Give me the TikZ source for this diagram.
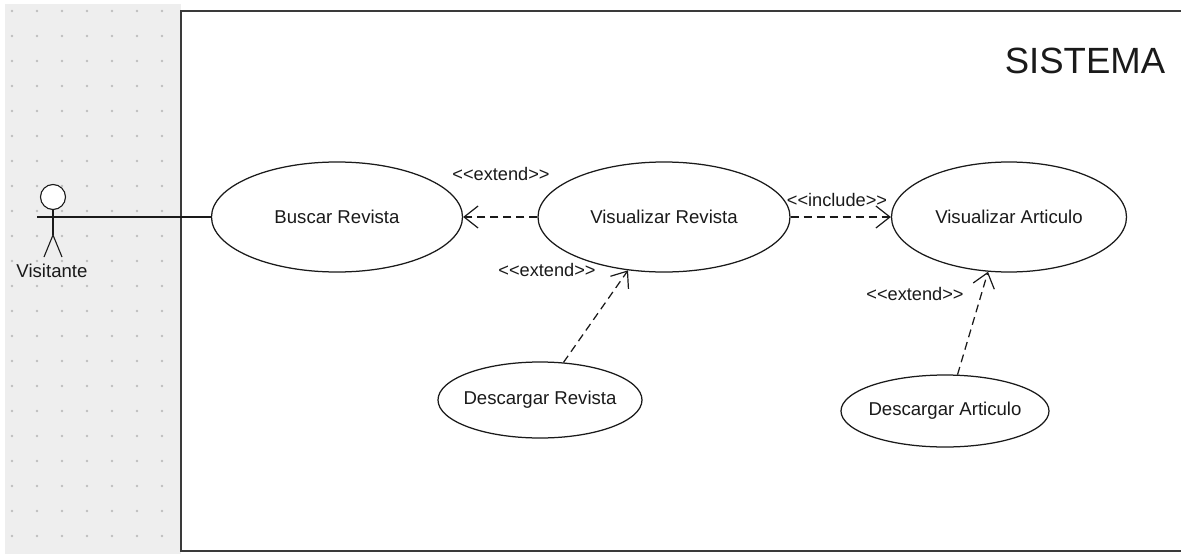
\documentclass[tikz,border=0pt]{standalone}
\usepackage{fontspec}
\setmainfont{Liberation Sans}[Ligatures=TeXOff]
\usetikzlibrary{shapes.geometric,arrows.meta}
\definecolor{gridbg}{HTML}{EEEEEE}
\definecolor{griddot}{HTML}{BEBEBE}
\definecolor{ink}{HTML}{1A1A1A}
\definecolor{frame}{HTML}{3A3A3A}
\begin{document}
\begin{tikzpicture}[x=1pt,y=-1pt,
  usecase/.style={ellipse,draw=ink,line width=1.25pt,fill=white,inner sep=0pt,
    inner xsep=-30pt,text=ink,font=\fontsize{18.6}{20}\selectfont},
  stereo/.style={inner sep=0pt,text=ink,font=\fontsize{18.2}{19}\selectfont},
  dep/.style={draw=ink,line width=1.25pt,dash pattern=on 8pt off 5pt,
    -{Straight Barb[length=14pt,width=22pt,line width=1.2pt]}},
  assoc/.style={draw=ink,line width=1.25pt},
  stick/.style={draw=ink,line width=1.1pt}]

% page and grey grid strip
\useasboundingbox (0,0) rectangle (1181,554);
\fill[white] (0,0) rectangle (1181,554);
\fill[gridbg] (5,4) rectangle (181,554);
\foreach \x in {12,37,...,162}
  \foreach \y in {11,36,...,536}
    \fill[griddot] (\x,\y) circle (1.4pt);

% system boundary (open towards the right edge)
\draw[frame,line width=2pt] (1185,11) -- (181,11) -- (181,551) -- (1185,551);
\node[inner sep=0pt,font=\fontsize{36.5}{38}\selectfont,text=ink] (sys) at (1085,61) {SISTEMA};

% actor
\node[circle,draw=ink,line width=1.1pt,fill=white,minimum size=25pt,inner sep=0pt] (head) at (53,197) {};
\coordinate (hip) at (53,235);
\coordinate (hand) at (53,217);
\coordinate (armL) at (37,217);
\coordinate (armR) at (69,217);
\coordinate (footL) at (44,257);
\coordinate (footR) at (62,257);
\draw[stick] (head.south) -- (hip);
\draw[stick] (armL) -- (armR);
\draw[stick] (footL) -- (hip) -- (footR);
\node[inner sep=0pt,text=ink,font=\fontsize{18.6}{20}\selectfont] (visitante) at (52,271) {Visitante};

% use cases
\node[usecase,minimum width=251pt,minimum height=110pt] (br) at (337,217) {Buscar Revista};
\node[usecase,minimum width=252pt,minimum height=110pt] (vr) at (664,217) {Visualizar Revista};
\node[usecase,minimum width=235pt,minimum height=110pt] (va) at (1009,217) {Visualizar Articulo};
\node[usecase,minimum width=204pt,minimum height=76pt] (dr) at (540,400) {Descargar Revista};
\node[usecase,minimum width=208pt,minimum height=72pt] (da) at (945,411) {Descargar Articulo};

% associations and dependencies
\draw[assoc] (hand) -- (br.west);
\draw[dep] (vr.west) -- (br.east);
\draw[dep] (vr.east) -- (va.west);
\draw[dep] (dr.58) -- (vr.236);
\draw[dep] (da.71) -- (va.249);

% stereotype labels
\node[stereo] (ext1) at (501,174) {<<extend>>};
\node[stereo] (incl) at (837,200) {<<include>>};
\node[stereo] (ext2) at (547,270) {<<extend>>};
\node[stereo] (ext3) at (915,294) {<<extend>>};
\end{tikzpicture}
\end{document}
